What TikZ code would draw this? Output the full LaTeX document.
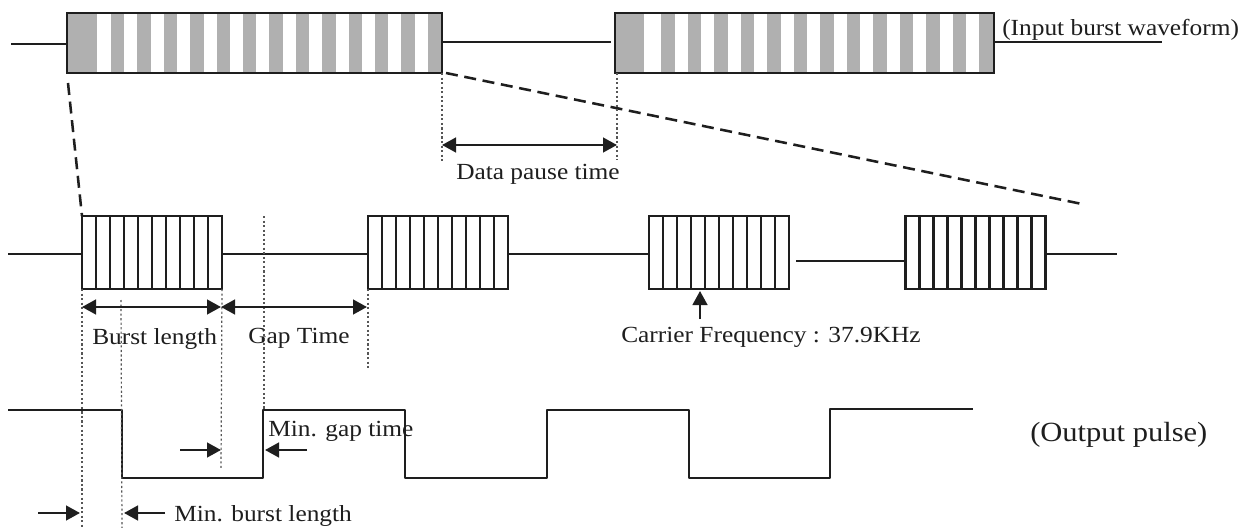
\documentclass[tikz,border=0pt]{standalone}
\usepackage{fontspec}
\setmainfont[FakeStretch=1.1]{Liberation Serif}
\usetikzlibrary{arrows.meta,calc}
\definecolor{ink}{HTML}{1E1E1E}
\definecolor{stripe}{HTML}{B0B0B0}
\tikzset{
  wire/.style={draw=ink,line width=1.9pt},
  inputbox/.style={draw=ink,line width=1.9pt,minimum height=45pt,inner sep=0pt,outer sep=0pt,fill=white},
  carrierbox/.style={draw=ink,line width=1.6pt,minimum width=105pt,minimum height=54.75pt,inner sep=0pt,outer sep=0pt},
  tick/.style={draw=ink,line width=1.6pt},
  guide/.style={draw=ink!75,line width=0.9pt,dash pattern=on 1.6pt off 1.8pt},
  zoomline/.style={draw=ink,line width=1.9pt,dash pattern=on 9pt off 5pt},
  dim/.style={draw=ink,line width=1.8pt,-{Triangle[length=10.5pt,width=11pt]}},
  dimboth/.style={draw=ink,line width=1.8pt,{Triangle[length=10.5pt,width=11pt]}-{Triangle[length=10.5pt,width=11pt]}},
  lbl/.style={text=ink,inner sep=0pt,font=\fontsize{17.3pt}{19pt}\selectfont},
  lblbig/.style={text=ink,inner sep=0pt,font=\fontsize{20.8pt}{23pt}\selectfont},
}
\begin{document}
\begin{tikzpicture}[x=0.75pt,y=-0.75pt]
\useasboundingbox[fill=white] (0,0) rectangle (1250,528);
% input bursts
\node[inputbox,minimum width=281.25pt] (in1) at (254.5,43) {};
\node[inputbox,minimum width=284.25pt] (in2) at (804.5,43) {};
\fill[stripe] (67,13) rectangle (97,73);
\foreach \k in {0,...,12} \fill[stripe] ({111+26.4*\k},13) rectangle ({124.4+26.4*\k},73);
\fill[stripe] (615,13) rectangle (644,73);
\foreach \k in {0,...,12} \fill[stripe] ({661+26.5*\k},13) rectangle ({674.5+26.5*\k},73);
\draw[wire,fill=none] (in1.south west) rectangle (in1.north east);
\draw[wire,fill=none] (in2.south west) rectangle (in2.north east);
\coordinate (a0) at (11,44);
\coordinate (a1) at (611,42);
\coordinate (a2) at (1162,42);
\draw[wire] (a0) -- (in1.west |- a0);
\draw[wire] (in1.east |- a1) -- (a1);
\draw[wire] (in2.east |- a2) -- (a2);
\node[lbl,anchor=west] (inlabel) at (1002,30) {(Input burst waveform)};
% carrier bursts
\node[carrierbox] (b1) at (152,252.5) {};
\node[carrierbox] (b2) at (438,252.5) {};
\node[carrierbox] (b3) at (719,252.5) {};
\node[carrierbox] (b4) at (975.5,252.5) {};
\foreach \n in {b1,b2,b3,b4}
  \foreach \k in {1,...,9}
    \draw[tick] ($(\n.south west)!\k/10!(\n.south east)$) -- ($(\n.north west)!\k/10!(\n.north east)$);
\coordinate (c0) at (8,254);
\coordinate (c1) at (1117,254);
\coordinate (c2) at (796,261);
\draw[wire,line width=1.6pt] (c0) -- (b1.west |- c0);
\draw[wire,line width=1.6pt] (b1.east |- c0) -- (b2.west |- c0);
\draw[wire,line width=1.6pt] (b2.east |- c0) -- (b3.west |- c0);
\draw[wire,line width=1.6pt] (c2) -- (b4.west |- c2);
\draw[wire,line width=1.6pt] (b4.east |- c1) -- (c1);
% zoom lines
\coordinate (z1) at (68,83);
\coordinate (z2) at (446,73);
\coordinate (z3) at (1082,204);
\draw[zoomline] (z1) -- (b1.north west);
\draw[zoomline] (z2) -- (z3);
% output pulse
\coordinate (p0) at (8,410);
\coordinate (p1) at (122,410);
\coordinate (p2) at (122,478);
\coordinate (p3) at (263,478);
\coordinate (p4) at (263,410);
\coordinate (p5) at (405,410);
\coordinate (p6) at (405,478);
\coordinate (p7) at (547,478);
\coordinate (p8) at (547,410);
\coordinate (p9) at (689,410);
\coordinate (p10) at (689,478);
\coordinate (p11) at (830,478);
\coordinate (p12) at (830,409);
\coordinate (p13) at (973,409);
\draw[wire,line join=round] (p0) -- (p1) -- (p2) -- (p3) -- (p4) -- (p5) -- (p6) -- (p7) -- (p8) -- (p9) -- (p10) -- (p11) -- (p12) -- (p13);
% guides
\coordinate (g1) at (442,162);
\coordinate (g2) at (617,160);
\draw[guide] (in1.south east) -- (g1);
\draw[guide] (in2.south west) ++(2,0) -- (g2);
\coordinate (g3) at (82,528);
\coordinate (g4a) at (121,300);
\coordinate (g4) at (122,528);
\coordinate (g5) at (221,470);
\coordinate (g6a) at (264,216);
\coordinate (g6) at (264,410);
\coordinate (g7) at (368,370);
\draw[guide] (b1.south west) -- (g3);
\draw[guide] (g4a) -- (g4);
\draw[guide] (b1.south east) -- (g5);
\draw[guide] (g6a) -- (g6);
\draw[guide] (b2.south west) -- (g7);
% dimension arrows
\coordinate (d1) at (442,145);
\coordinate (d2) at (617,145);
\draw[dimboth] (d1) -- (d2);
\coordinate (d3) at (82,307);
\coordinate (d4) at (221,307);
\coordinate (d5) at (367,307);
\draw[dimboth] (d3) -- (d4);
\draw[dimboth] (d4) -- (d5);
\coordinate (e1) at (700,319);
\coordinate (e2) at (700,291);
\draw[dim] (e1) -- (e2);
\coordinate (f1) at (180,450);
\coordinate (f2) at (221,450);
\coordinate (f3) at (307,450);
\coordinate (f4) at (265,450);
\draw[dim] (f1) -- (f2);
\draw[dim] (f3) -- (f4);
\coordinate (h1) at (38,513);
\coordinate (h2) at (80,513);
\coordinate (h3) at (165,513);
\coordinate (h4) at (124,513);
\draw[dim] (h1) -- (h2);
\draw[dim] (h3) -- (h4);
% labels
\node[lbl,anchor=west] (ldata) at (456,174) {Data pause time};
\node[lbl,anchor=west] (lburst) at (92,339) {Burst length};
\node[lbl,anchor=west] (lgap) at (248,338) {Gap Time};
\node[lbl,anchor=west] (lcarrier) at (621,337) {Carrier Frequency : 37.9KHz};
\node[lbl,anchor=west] (lmingap) at (268,431) {Min. gap time};
\node[lbl,anchor=west] (lminburst) at (174,516) {Min. burst length};
\node[lblbig,anchor=west] (loutput) at (1030,435) {(Output pulse)};
\end{tikzpicture}
\end{document}
